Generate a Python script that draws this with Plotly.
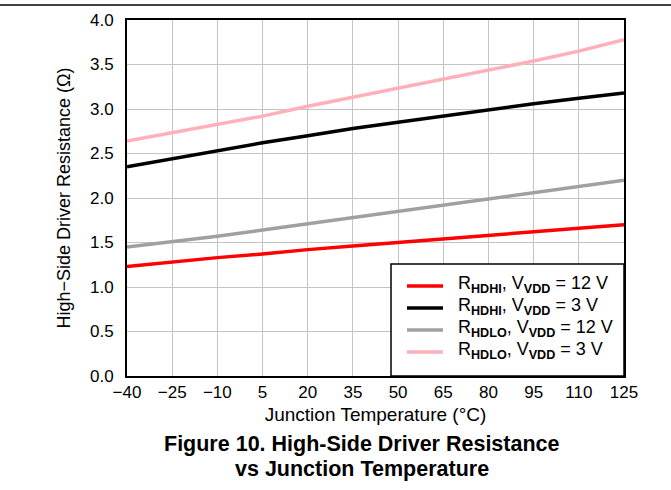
import plotly.graph_objects as go

temps = [-40, -25, -10, 5, 20, 35, 50, 65, 80, 95, 110, 125]
hdhi_12v = [1.23, 1.28, 1.33, 1.37, 1.42, 1.46, 1.50, 1.54, 1.58, 1.62, 1.66, 1.70]
hdhi_3v = [2.35, 2.44, 2.53, 2.62, 2.70, 2.78, 2.85, 2.92, 2.99, 3.06, 3.12, 3.18]
hdlo_12v = [1.45, 1.51, 1.57, 1.64, 1.71, 1.78, 1.85, 1.92, 1.99, 2.06, 2.13, 2.20]
hdlo_3v = [2.64, 2.73, 2.82, 2.92, 3.03, 3.13, 3.23, 3.33, 3.43, 3.54, 3.65, 3.78]

x_ticks = [-40, -25, -10, 5, 20, 35, 50, 65, 80, 95, 110, 125]
x_ticktext = ["\u221240", "\u221225", "\u221210", "5", "20", "35", "50", "65", "80", "95", "110", "125"]
y_ticks = [0.0, 0.5, 1.0, 1.5, 2.0, 2.5, 3.0, 3.5, 4.0]

series = [
    ("R<sub><b>HDHI</b></sub>, V<sub><b>VDD</b></sub> = 12 V", hdhi_12v, "#ff0000"),
    ("R<sub><b>HDHI</b></sub>, V<sub><b>VDD</b></sub> = 3 V", hdhi_3v, "#000000"),
    ("R<sub><b>HDLO</b></sub>, V<sub><b>VDD</b></sub> = 12 V", hdlo_12v, "#a0a0a0"),
    ("R<sub><b>HDLO</b></sub>, V<sub><b>VDD</b></sub> = 3 V", hdlo_3v, "#ffb0b8"),
]

fig = go.Figure()
for name, vals, color in series:
    fig.add_trace(go.Scatter(x=temps, y=vals, mode="lines", name=name,
                             line=dict(color=color, width=3.5), showlegend=False))

W, H = 671, 490
L, R, T, B = 127, 47, 20, 114
pw, ph = W - L - R, H - T - B

def px(x):
    return (x - L) / pw

def py(y):
    return (T + ph - y) / ph

fig.update_layout(
    width=W, height=H,
    margin=dict(l=L, r=R, t=T, b=B),
    paper_bgcolor="white", plot_bgcolor="white",
    font=dict(family="Liberation Sans, Arial", size=17, color="black"),
    showlegend=False,
    xaxis=dict(range=[-40, 125], tickvals=x_ticks, ticktext=x_ticktext,
               showgrid=True, gridcolor="#c4c4c4", gridwidth=1,
               showline=True, linecolor="black", linewidth=2, mirror=True,
               ticks="", zeroline=False, tickfont=dict(size=17),
               title=dict(text="Junction Temperature (\u00b0C)", font=dict(size=19), standoff=6)),
    yaxis=dict(range=[0, 4], tickvals=y_ticks, tickformat=".1f",
               showgrid=True, gridcolor="#c4c4c4", gridwidth=1,
               showline=True, linecolor="black", linewidth=2, mirror=True,
               ticks="outside", ticklen=8, tickcolor="rgba(0,0,0,0)",
               zeroline=False, tickfont=dict(size=17),
               title=dict(text="High\u2212Side Driver Resistance (\u03a9)", font=dict(size=18), standoff=15)),
)

# page header rule
fig.add_shape(type="line", xref="paper", yref="paper",
              x0=px(0), x1=px(W), y0=py(5), y1=py(5),
              line=dict(color="black", width=1.5))

# legend box
fig.add_shape(type="rect", xref="paper", yref="paper",
              x0=px(391), x1=px(624), y0=py(376), y1=py(264),
              line=dict(color="black", width=1.5), fillcolor="white", layer="above")
legend_rows = [286, 308, 330, 352]
for (name, vals, color), ry in zip(series, legend_rows):
    fig.add_shape(type="line", xref="paper", yref="paper",
                  x0=px(407), x1=px(443), y0=py(ry), y1=py(ry),
                  line=dict(color=color, width=3.5), layer="above")
    fig.add_annotation(xref="paper", yref="paper", x=px(456), y=py(ry - 2),
                       text=name, showarrow=False, xanchor="left", yanchor="middle",
                       font=dict(size=18))

fig.add_annotation(xref="paper", yref="paper", x=px(362), y=py(444),
                   text="<b>Figure 10. High-Side Driver Resistance</b>", showarrow=False,
                   font=dict(size=21.5), xanchor="center", yanchor="middle")
fig.add_annotation(xref="paper", yref="paper", x=px(362), y=py(469),
                   text="<b>vs Junction Temperature</b>", showarrow=False,
                   font=dict(size=21.5), xanchor="center", yanchor="middle")

fig.write_html("out.html", post_script="document.body.style.margin='0';",
               config={"displayModeBar": False})
